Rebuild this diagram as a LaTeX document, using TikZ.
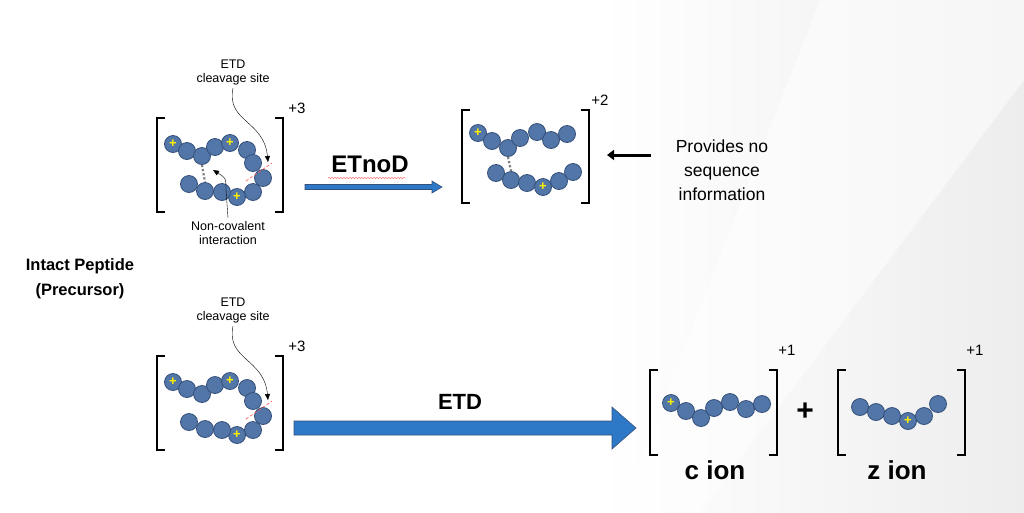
\documentclass[tikz,border=0pt]{standalone}
\usepackage{fontspec}
\setmainfont{Liberation Sans}
\usetikzlibrary{arrows.meta,decorations.pathmorphing}
\definecolor{bead}{HTML}{5276A8}
\definecolor{beadline}{HTML}{34507A}
\definecolor{arrowblue}{HTML}{2E78C8}
\begin{document}
\begin{tikzpicture}[x=1pt,y=-1pt,
  b/.style={circle,draw=beadline,fill=bead,line width=0.8pt,minimum size=17pt,inner sep=0pt},
  p/.style={b,label={[yellow,font=\bfseries\fontsize{13}{13}\selectfont,inner sep=0pt]center:+}},
  brk/.style={line width=1.3pt},
  sm/.style={font=\fontsize{12.5}{14}\selectfont,align=center},
  ch/.style={font=\fontsize{15}{16}\selectfont}]
\useasboundingbox (0,0) rectangle (1024,512);
\fill[white] (0,0) rectangle (1024,512);
\shade[left color=white,right color=gray!14] (600,0) -- (1024,0) -- (1024,512) -- (600,512) -- cycle;
\fill[white,opacity=0.5] (820,0) -- (1024,0) -- (1024,80) -- (700,512) -- (620,512) -- cycle;
% ---------- precursors
\foreach \dy/\s in {0/A,238/B}{
\begin{scope}[yshift=-\dy pt]
\draw[brk] (165,118) -- (157,118) -- (157,212) -- (165,212);
\draw[brk] (275,118) -- (283,118) -- (283,212) -- (275,212);
\node[ch] (\s c) at (297,108) {+3};
\node[p] (\s1) at (173,144) {};
\node[b] (\s2) at (187,151) {};
\node[b] (\s3) at (202,156) {};
\node[b] (\s4) at (215,147) {};
\node[p] (\s5) at (230,143) {};
\node[b] (\s6) at (247,150) {};
\node[b] (\s7) at (253,163) {};
\node[b] (\s8) at (263,178) {};
\node[b] (\s9) at (253,192) {};
\node[p] (\s10) at (237,197) {};
\node[b] (\s11) at (222,192) {};
\node[b] (\s12) at (205,191) {};
\node[b] (\s13) at (189,184) {};
\draw[red!70,densely dashed,line width=0.6pt] (246,181) -- (272,163);
\node[sm] (\s t) at (233,72) {ETD\\cleavage site};
\coordinate (\s tip) at (268,162);
\draw[-{Triangle[length=6pt,width=5pt]}] (\s t.south) ..controls (226,122) and (264,120) .. (\s tip);
\end{scope}}
\draw[gray,dotted,line width=2.2pt] (A3.south) -- (A12.north);
\node[sm] (nc) at (228,233) {Non-covalent\\interaction};
\coordinate (nctip) at (213,170);
\draw[-{Triangle[length=6pt,width=5pt]}] (nc.north) -- (226,190) ..controls (226,178) .. (nctip);
% ETnoD arrow
\node[font=\bfseries\fontsize{24}{26}\selectfont] (etnod) at (370,164) {ETnoD};
\draw[red!60,decorate,decoration={snake,amplitude=0.8pt,segment length=3pt}] (328,178) -- (406,178);
\draw[draw=beadline,fill=arrowblue,line width=0.6pt] (305,184.5) -- (432,184.5) -- (432,181) -- (442,187) -- (432,193) -- (432,189.5) -- (305,189.5) -- cycle;
% ---------- ETnoD product
\draw[brk] (470,110) -- (462,110) -- (462,203) -- (470,203);
\draw[brk] (581,110) -- (589,110) -- (589,203) -- (581,203);
\node[ch] (c2) at (600,100) {+2};
\foreach \n/\x/\y/\st in {1/478/133/p,2/492/141/b,3/508/148/b,4/520/138/b,5/537/132/b,6/551/140/b,7/567/134/b,
  8/496/173/b,9/511/180/b,10/527/183/b,11/543/187/p,12/559/181/b,13/573/172/b}
  {\node[\st] (C\n) at (\x,\y) {};}
\draw[gray,dotted,line width=2.2pt] (C3.south) -- (C9.north);
\node[font=\fontsize{17.5}{24}\selectfont,align=center] (info) at (722,170) {Provides no\\sequence\\information};
\coordinate (ia) at (607,155);
\draw[line width=3pt,-{Triangle[length=7pt,width=10pt]}] (651,155) -- (ia);
% Intact Peptide
\node[font=\bfseries\fontsize{16.5}{25}\selectfont,align=center] (ip) at (80,279) {Intact Peptide\\(Precursor)};
% ETD arrow
\node[font=\bfseries\fontsize{22}{24}\selectfont] (etd) at (460,402) {ETD};
\draw[draw=beadline,fill=arrowblue,line width=0.6pt] (294,421) -- (612,421) -- (612,407) -- (636,428) -- (612,449) -- (612,435) -- (294,435) -- cycle;
% ---------- c ion
\draw[brk] (658,370) -- (650,370) -- (650,455) -- (658,455);
\draw[brk] (769,370) -- (777,370) -- (777,455) -- (769,455);
\node[ch] (c3) at (787,350) {+1};
\foreach \n/\x/\y/\st in {1/671/403/p,2/686/411/b,3/701/418/b,4/714/408/b,5/730/402/b,6/746/409/b,7/762/404/b}
  {\node[\st] (D\n) at (\x,\y) {};}
\node[font=\bfseries\fontsize{26}{28}\selectfont] (ci) at (715,470) {c ion};
\node[font=\bfseries\fontsize{30}{30}\selectfont] (plus) at (805,412) {+};
% ---------- z ion
\draw[brk] (846,370) -- (838,370) -- (838,455) -- (846,455);
\draw[brk] (957,370) -- (965,370) -- (965,455) -- (957,455);
\node[ch] (c4) at (975,350) {+1};
\foreach \n/\x/\y/\st in {1/860/407/b,2/876/412/b,3/892/416/b,4/908/421/p,5/924/416/b,6/938/404/b}
  {\node[\st] (E\n) at (\x,\y) {};}
\node[font=\bfseries\fontsize{26}{28}\selectfont] (zi) at (897,470) {z ion};
\end{tikzpicture}
\end{document}
